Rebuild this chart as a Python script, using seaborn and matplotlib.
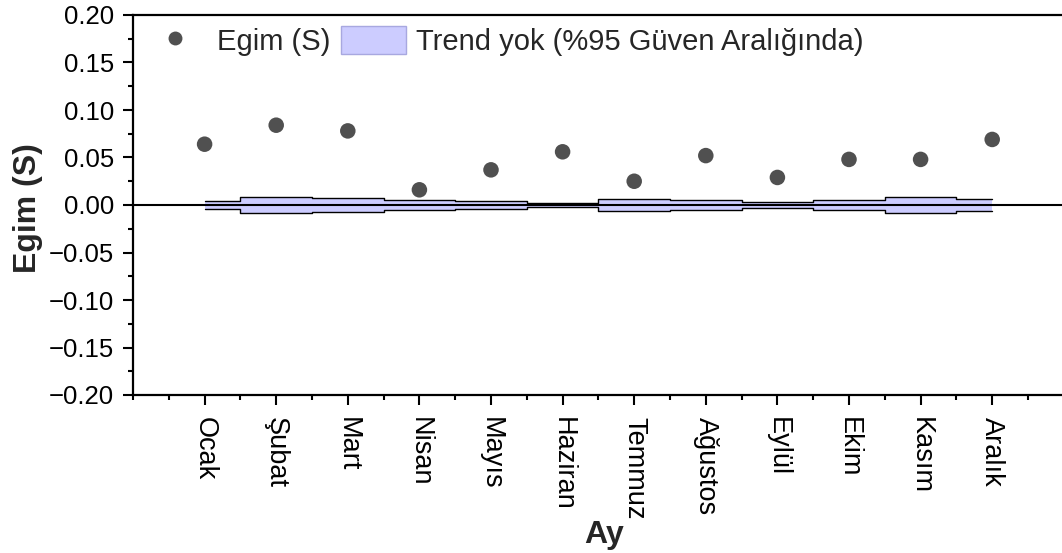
import numpy as np
import pandas as pd
import matplotlib
matplotlib.use("Agg")
import matplotlib.pyplot as plt
from matplotlib.lines import Line2D
from matplotlib.patches import Patch
from matplotlib.ticker import MultipleLocator
import seaborn as sns

# Monthly Sen slope estimates and 95% no-trend confidence half-widths
months = ["Ocak", "Şubat", "Mart", "Nisan", "Mayıs", "Haziran",
          "Temmuz", "Ağustos", "Eylül", "Ekim", "Kasım", "Aralık"]
slope = [0.064, 0.084, 0.078, 0.016, 0.037, 0.056,
         0.025, 0.052, 0.029, 0.048, 0.048, 0.069]
ci_half = [0.0045, 0.0085, 0.0070, 0.0055, 0.0045, 0.0025,
           0.0068, 0.0050, 0.0035, 0.0050, 0.0080, 0.0060]

sns.set_theme(style="white")
plt.rcParams["font.family"] = ["Liberation Sans", "DejaVu Sans"]

df = pd.DataFrame({
    "pos": np.arange(1, len(months) + 1),
    "ay": months,
    "S": slope,
    "upper": ci_half,
    "lower": [-v for v in ci_half],
})

W, H = 1062, 553
fig = plt.figure(figsize=(W / 100, H / 100), dpi=100)
ax = fig.add_axes([133 / W, 1 - 395 / H, 930.8 / W, 380 / H])

band_fill = "#CCCCFF"

# no-trend band (step shape centred on each month)
ax.fill_between(df["pos"], df["lower"], df["upper"], step="mid",
                facecolor=band_fill, edgecolor="none", zorder=1)
sns.lineplot(data=df, x="pos", y="upper", drawstyle="steps-mid",
             color="black", linewidth=1.0, ax=ax, zorder=2)
sns.lineplot(data=df, x="pos", y="lower", drawstyle="steps-mid",
             color="black", linewidth=1.0, ax=ax, zorder=2)

# zero reference line
ax.axhline(0, color="black", linewidth=1.5, zorder=3)

# slope estimates
sns.scatterplot(data=df, x="pos", y="S", s=125, color="#505050",
                edgecolor="none", ax=ax, zorder=4)

ax.set_xlim(0, 13)
ax.set_ylim(-0.20, 0.20)
ax.set_xticks(df["pos"])
ax.set_xticklabels(months, rotation=-90, fontsize=19.5)
ax.xaxis.set_minor_locator(MultipleLocator(0.5))
ax.yaxis.set_major_locator(MultipleLocator(0.05))
ax.yaxis.set_minor_locator(MultipleLocator(0.025))
ax.set_yticklabels([f"{v:.2f}".replace("-", "\u2212") for v in ax.get_yticks()],
                   fontsize=18.5)

ax.tick_params(axis="both", which="major", direction="out", length=7.2,
               width=1.5, color="black", labelcolor="black")
ax.tick_params(axis="both", which="minor", direction="out", length=3.6,
               width=1.5, color="black")
ax.tick_params(axis="x", which="major", pad=8.5)
ax.tick_params(axis="y", which="major", pad=6.5)
ax.tick_params(bottom=True, left=True, which="both")

for side in ["left", "bottom", "top"]:
    ax.spines[side].set_visible(True)
    ax.spines[side].set_color("black")
    ax.spines[side].set_linewidth(1.6)
ax.spines["right"].set_visible(False)

ax.set_xlabel("Ay", fontsize=23, fontweight="bold")
ax.xaxis.set_label_coords((604 - 133) / 930.8, (395 - 520) / 380)
ax.set_ylabel("Egim (S)", fontsize=23, fontweight="bold", va="center")
ax.yaxis.set_label_coords((28 - 133) / 930.8, (395 - 208) / 380)

handles = [
    Line2D([0], [0], marker="o", linestyle="none", markersize=10,
           markerfacecolor="#505050", markeredgecolor="none"),
    Patch(facecolor=band_fill, edgecolor="#A8A8E0", linewidth=1.0),
]
ax.legend(handles, ["Egim (S)", "Trend yok (%95 Güven Aralığında)"],
          loc="upper left", ncol=2, frameon=False, fontsize=21,
          handlelength=2.24, handleheight=1.12, columnspacing=0.34,
          handletextpad=0.34, borderpad=0, borderaxespad=0,
          bbox_to_anchor=(142 / W, 1 - 26 / H),
          bbox_transform=fig.transFigure)

fig.savefig("out.png", dpi=100)
